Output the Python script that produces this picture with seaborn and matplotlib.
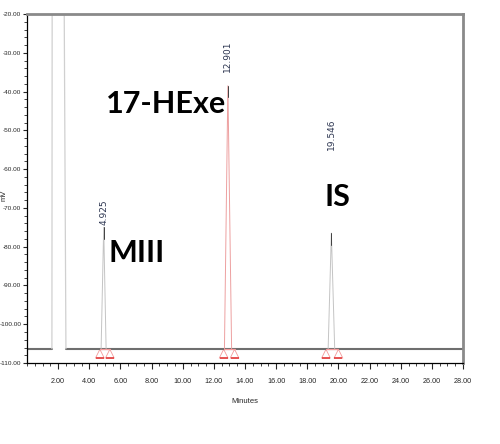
import numpy as np
import pandas as pd
import matplotlib
matplotlib.use("Agg")
import matplotlib.pyplot as plt
import seaborn as sns
from matplotlib.ticker import MultipleLocator

# values
baseline_mv = -106.3
solvent_time = [1.60, 1.62, 2.36, 2.50]
solvent_mv = [-106.3, 5.0, 5.0, -106.3]
peak_rt = [4.925, 12.901, 19.546]
peak_top = [-75.0, -38.5, -76.5]
peak_left = [4.76, 12.68, 19.34]
peak_right = [5.08, 13.14, 19.76]
peak_start = [4.68, 12.63, 19.20]
peak_end = [5.32, 13.33, 20.00]
rt_label_mv = [-74.4, -35.0, -55.0]
peak_colors = ["#c4c4c4", "#eda0a0", "#c4c4c4"]
names = ["MIII", "17-HExe", "IS"]
name_x = [5.25, 5.1, 19.1]
name_y = [-84.0, -45.5, -69.5]

sns.set_style("ticks")
plt.rcParams['font.family'] = ['Liberation Sans', 'DejaVu Sans']

fig = plt.figure(figsize=(5.0, 4.44), dpi=100)
ax = fig.add_axes([0.054, 0.1824, 0.872, 0.786])

# baseline (gap under the solvent front)
base = pd.DataFrame({"t": [0.0, solvent_time[0]], "mv": [baseline_mv] * 2})
sns.lineplot(data=base, x="t", y="mv", color="#6e6e6e", lw=1.5, ax=ax)
base2 = pd.DataFrame({"t": [solvent_time[-1], 28.0], "mv": [baseline_mv] * 2})
sns.lineplot(data=base2, x="t", y="mv", color="#6e6e6e", lw=1.5, ax=ax)

solv = pd.DataFrame({"t": solvent_time, "mv": solvent_mv})
sns.lineplot(data=solv, x="t", y="mv", color="#d0d0d0", lw=0.9, sort=False,
             estimator=None, ax=ax)

for i in range(len(peak_rt)):
    pk = pd.DataFrame({"t": [peak_left[i], peak_rt[i], peak_right[i]],
                       "mv": [baseline_mv, peak_top[i], baseline_mv]})
    sns.lineplot(data=pk, x="t", y="mv", color=peak_colors[i], lw=0.7,
                 sort=False, estimator=None, ax=ax)
    tip = pd.DataFrame({"t": [peak_rt[i], peak_rt[i]],
                        "mv": [peak_top[i], peak_top[i] - 3.0]})
    sns.lineplot(data=tip, x="t", y="mv", color="#404040", lw=0.7,
                 sort=False, estimator=None, ax=ax)
    # integration marks
    integ = pd.DataFrame({"t": [peak_start[i], peak_end[i]], "mv": [baseline_mv] * 2})
    sns.lineplot(data=integ, x="t", y="mv", color="#f49a9a", lw=0.9, ax=ax)
    marks = pd.DataFrame({"t": [peak_start[i], peak_end[i]],
                          "mv": [baseline_mv - 1.3] * 2})
    sns.scatterplot(data=marks, x="t", y="mv", marker="^", s=40,
                    facecolor="none", edgecolor="#f49a9a", linewidth=0.6, ax=ax)
    bars = pd.DataFrame({"t": [peak_start[i], peak_end[i]],
                         "mv": [baseline_mv - 2.5] * 2})
    sns.scatterplot(data=bars, x="t", y="mv", marker="_", s=28,
                    color="#e03030", linewidth=1.1, ax=ax)
    ax.text(peak_rt[i], rt_label_mv[i], f"{peak_rt[i]:.3f}", rotation=90,
            ha="center", va="bottom", fontsize=6.5, color="#2c3550",
            family=["DejaVu Sans"])
    ax.text(name_x[i], name_y[i], names[i], fontsize=22, fontweight="bold",
            family=["Lato", "DejaVu Sans"], ha="left", va="baseline", color="black")

ax.set_xlim(0, 28)
ax.set_ylim(-110, -20)
ax.set_xticks(np.arange(2, 29, 2))
ax.set_xticklabels([f"{v:.2f}" for v in np.arange(2, 29, 2)])
ax.set_yticks(np.arange(-110, -19, 10))
ax.set_yticklabels([f"{v:.2f}" for v in np.arange(-110, -19, 10)])
ax.xaxis.set_minor_locator(MultipleLocator(0.5))
ax.yaxis.set_minor_locator(MultipleLocator(2))
ax.tick_params(axis="x", which="major", labelsize=5.2, length=4, width=0.8,
               direction="out", pad=7)
ax.tick_params(axis="y", which="major", labelsize=4.6, length=3, width=0.8,
               direction="out", pad=1)
ax.tick_params(axis="both", which="minor", length=2.5, width=0.6, direction="out")
ax.set_xlabel("Minutes", fontsize=5.5, labelpad=9)
ax.set_ylabel("mV", fontsize=5.5)
ax.yaxis.set_label_coords(-0.045, 0.48)

for s in ["left", "bottom"]:
    ax.spines[s].set_color("black")
    ax.spines[s].set_linewidth(0.9)
for s in ["top", "right"]:
    ax.spines[s].set_visible(True)
    ax.spines[s].set_color("#8a8a8a")
    ax.spines[s].set_linewidth(2.0)

fig.savefig("out.png", dpi=100)
